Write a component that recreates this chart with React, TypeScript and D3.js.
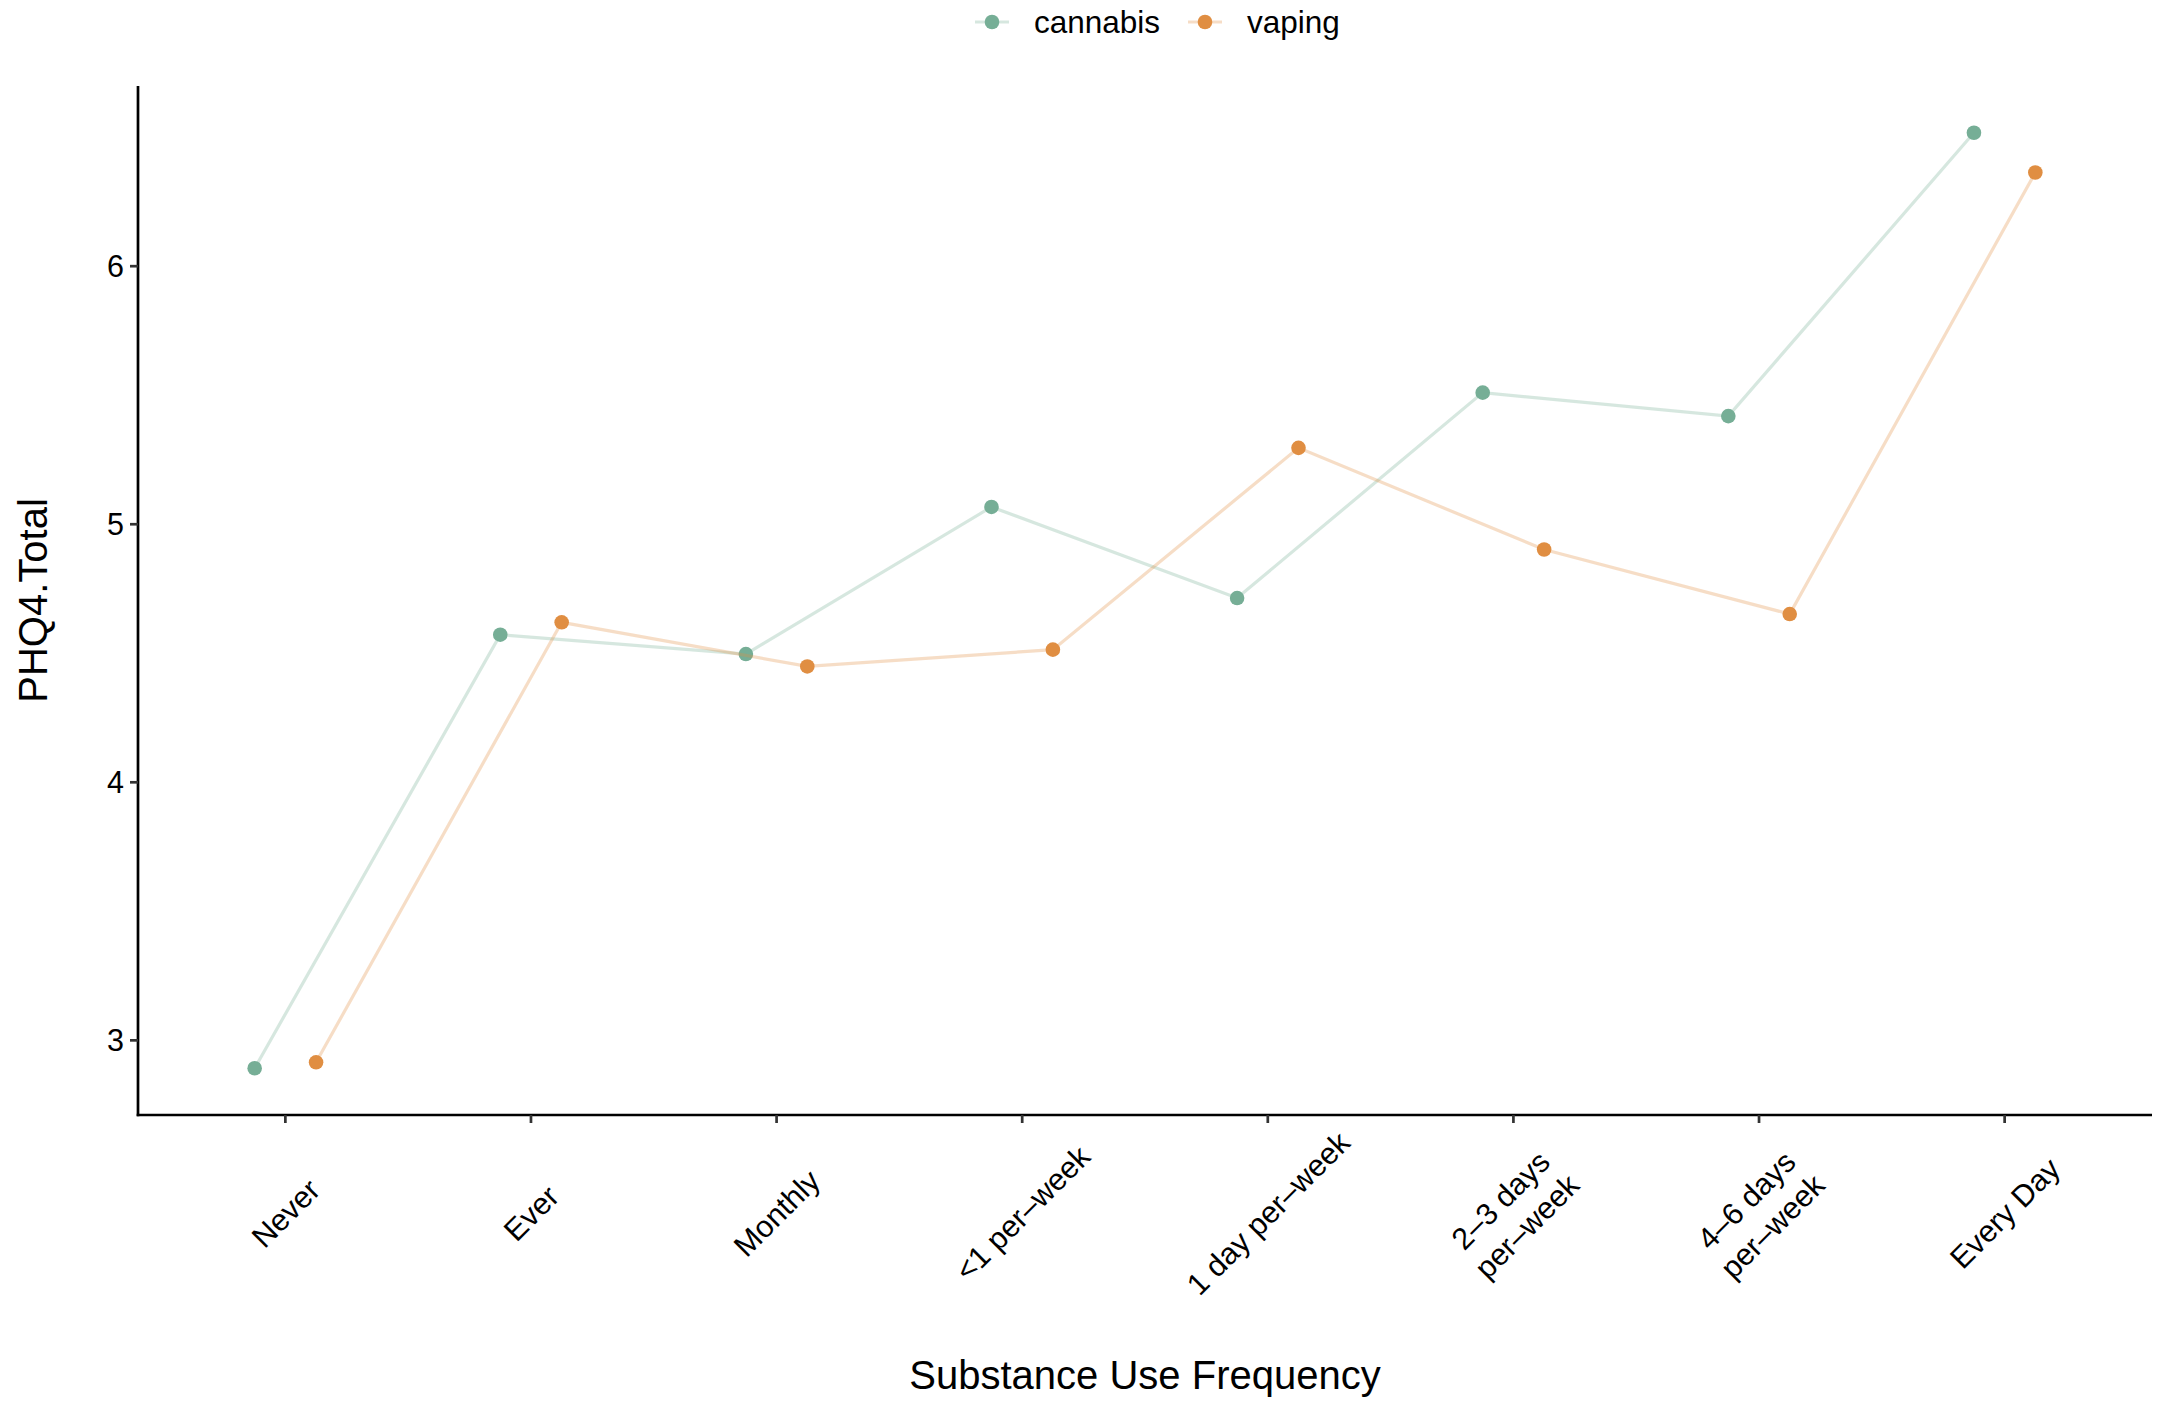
import React from "react";
import * as d3 from "d3";

// Frequency categories (x axis), "\n" splits a label onto two lines
const categories = [
  "Never",
  "Ever",
  "Monthly",
  "<1 per\u2013week",
  "1 day per\u2013week",
  "2\u20133 days\nper\u2013week",
  "4\u20136 days\nper\u2013week",
  "Every Day",
];

// Mean PHQ4 total per frequency level
const cannabisValues = [2.892, 4.572, 4.497, 5.067, 4.714, 5.51, 5.419, 6.517];
const vapingValues = [2.915, 4.62, 4.449, 4.514, 5.296, 4.902, 4.652, 6.363];

const seriesNames = ["cannabis", "vaping"];
const seriesColors = ["#76ae96", "#e08e42"];
const yTicks = [3, 4, 5, 6];

const W = 2163;
const H = 1401;
const FONT = "'Liberation Sans', Arial, Helvetica, sans-serif";

export default function App() {
  const left = 138;
  const right = 2152;
  const top = 86;
  const bottom = 1115;

  const x = d3.scalePoint<string>().domain(categories).range([left, right]).padding(0.6);
  const step = x.step();
  const dodge = [-0.125 * step, 0.125 * step];

  const all = [...cannabisValues, ...vapingValues];
  const [mn, mx] = d3.extent(all) as [number, number];
  const pad = (mx - mn) * 0.05;
  const y = d3.scaleLinear().domain([mn - pad, mx + pad]).range([bottom, top]);

  const series = [cannabisValues, vapingValues];

  const line = d3
    .line<[number, number]>()
    .x((d) => d[0])
    .y((d) => d[1]);

  const labelY = 1213;
  const tickFont = 30.5;
  const lineGap = 37;

  return (
    <svg
      width={W}
      height={H}
      style={{ position: "absolute", left: 0, top: 0, background: "#fff" }}
      fontFamily={FONT}
    >
      {/* series lines and points */}
      {series.map((vals, si) => {
        const pts: [number, number][] = vals.map((v, i) => [
          (x(categories[i]) as number) + dodge[si],
          y(v),
        ]);
        return (
          <g key={seriesNames[si]}>
            <path
              d={line(pts) || ""}
              fill="none"
              stroke={seriesColors[si]}
              strokeOpacity={0.3}
              strokeWidth={3.2}
            />
            {pts.map((p, i) => (
              <circle key={i} cx={p[0]} cy={p[1]} r={7.3} fill={seriesColors[si]} />
            ))}
          </g>
        );
      })}

      {/* axes */}
      <line x1={left} x2={left} y1={top} y2={bottom + 1.3} stroke="#000" strokeWidth={2.7} />
      <line x1={left - 1.3} x2={right} y1={bottom} y2={bottom} stroke="#000" strokeWidth={2.7} />

      {yTicks.map((t) => (
        <g key={t}>
          <line x1={left - 8} x2={left} y1={y(t)} y2={y(t)} stroke="#333" strokeWidth={2.7} />
          <text
            x={124}
            y={y(t)}
            textAnchor="end"
            dominantBaseline="central"
            fontSize={tickFont}
            fill="#000"
          >
            {t}
          </text>
        </g>
      ))}

      {categories.map((c) => {
        const cx = x(c) as number;
        const lines = c.split("\n");
        return (
          <g key={c}>
            <line x1={cx} x2={cx} y1={bottom} y2={bottom + 8} stroke="#333" strokeWidth={2.7} />
            <g transform={`translate(${cx},${labelY}) rotate(-45)`}>
              {lines.map((ln, li) => (
                <text
                  key={li}
                  x={0}
                  y={(li - (lines.length - 1) / 2) * lineGap}
                  textAnchor="middle"
                  dominantBaseline="central"
                  fontSize={tickFont}
                  fill="#000"
                >
                  {ln}
                </text>
              ))}
            </g>
          </g>
        );
      })}

      {/* axis titles */}
      <text x={(left + right) / 2} y={1389} textAnchor="middle" fontSize={40} fill="#000">
        Substance Use Frequency
      </text>
      <text
        transform={`translate(47,${(top + bottom) / 2}) rotate(-90)`}
        textAnchor="middle"
        fontSize={40}
        fill="#000"
      >
        PHQ4.Total
      </text>

      {/* legend */}
      {seriesNames.map((name, si) => {
        const kx = [992, 1205][si];
        const tx = [1034, 1247][si];
        return (
          <g key={name}>
            <line
              x1={kx - 17}
              x2={kx + 17}
              y1={22}
              y2={22}
              stroke={seriesColors[si]}
              strokeOpacity={0.3}
              strokeWidth={3.2}
            />
            <circle cx={kx} cy={22} r={7.3} fill={seriesColors[si]} />
            <text x={tx} y={22} dominantBaseline="central" fontSize={31.5} fill="#000">
              {name}
            </text>
          </g>
        );
      })}
    </svg>
  );
}
